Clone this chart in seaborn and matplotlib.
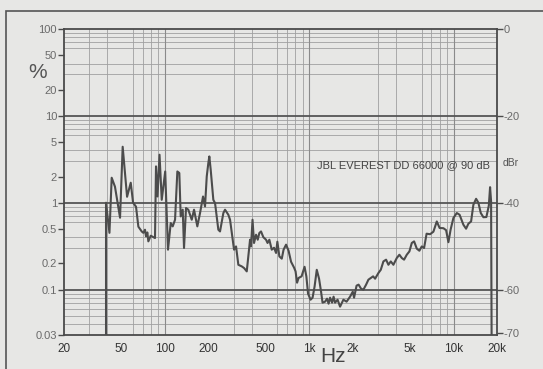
import numpy as np
import pandas as pd
import matplotlib
matplotlib.use("Agg")
import matplotlib.pyplot as plt
import matplotlib.ticker as mticker
from matplotlib.patches import Rectangle
import seaborn as sns

# distortion curve (Hz, %)
freq_hz = [
    39.1, 39.1, 41.3, 42.8, 45.1, 48.9, 51.0, 54.7, 58.0, 60.2,
    63.1, 65.5, 69.1, 70.9, 72.8, 74.0, 75.6, 76.8, 79.8, 85.4,
    86.8, 88.9, 91.8, 95.1, 100.5, 105.1, 109.8, 113.3, 117.6, 122.0,
    125.9, 128.7, 132.9, 135.7, 140.1, 145.3, 153.5, 159.2, 167.8, 175.2,
    183.8, 189.7, 195.0, 200.0, 203.2, 207.7, 216.6, 222.6, 234.6, 241.0,
    254.2, 261.0, 275.2, 282.8, 301.4, 311.2, 322.8, 340.8, 353.6, 369.2,
    378.8, 389.1, 395.2, 404.8, 414.6, 428.2, 439.8, 451.2, 463.6, 481.0,
    502.2, 514.4, 529.4, 550.0, 570.6, 589.2, 601.6, 621.0, 645.4, 664.2,
    691.2, 719.4, 748.6, 785.2, 804.4, 823.8, 843.8, 885.2, 928.4, 955.4,
    981.6, 1022, 1055, 1089, 1128, 1170, 1208, 1237, 1288, 1329,
    1362, 1395, 1440, 1475, 1510, 1572, 1636, 1725, 1815, 1919,
    2003, 2045, 2128, 2198, 2287, 2373, 2478, 2571, 2684, 2771,
    2861, 3015, 3132, 3266, 3409, 3537, 3673, 3830, 4043, 4214,
    4378, 4542, 4742, 4944, 5137, 5329, 5563, 5798, 6024, 6249,
    6504, 6878, 7251, 7653, 8005, 8507, 8880, 9212, 9538, 9975,
    10530, 11010, 11700, 12210, 12670, 13230, 13720, 14330, 14860, 15440,
    16100, 16880, 17550, 17910, 18200, 18350,
]
thd_pct = [
    0.03, 1.0, 0.45, 1.94, 1.53, 0.672, 4.41, 1.17, 1.70, 1.0,
    0.90, 0.53, 0.467, 0.45, 0.489, 0.41, 0.455, 0.359, 0.417, 0.392,
    2.62, 1.18, 3.57, 1.08, 2.29, 0.288, 0.584, 0.534, 0.637, 2.29,
    2.20, 0.696, 0.831, 0.301, 0.869, 0.831, 0.637, 0.831, 0.534, 0.761,
    1.18, 0.906, 2.01, 2.86, 3.41, 2.40, 1.08, 0.99, 0.489, 0.467,
    0.761, 0.831, 0.727, 0.637, 0.288, 0.314, 0.193, 0.185, 0.177, 0.162,
    0.241, 0.375, 0.314, 0.637, 0.344, 0.428, 0.375, 0.448, 0.467, 0.401,
    0.375, 0.344, 0.375, 0.288, 0.303, 0.264, 0.356, 0.241, 0.227, 0.288,
    0.329, 0.28, 0.209, 0.179, 0.162, 0.120, 0.136, 0.142, 0.183, 0.142,
    0.0897, 0.0765, 0.0807, 0.108, 0.169, 0.1335, 0.0946, 0.0707, 0.0726, 0.0786,
    0.0688, 0.0807, 0.0707, 0.0829, 0.0707, 0.0765, 0.0636, 0.0765, 0.0726, 0.0829,
    0.0946, 0.0807, 0.111, 0.114, 0.1024, 0.0997, 0.114, 0.130, 0.137, 0.142,
    0.1335, 0.155, 0.169, 0.211, 0.221, 0.193, 0.211, 0.193, 0.231, 0.252,
    0.231, 0.221, 0.252, 0.275, 0.344, 0.359, 0.296, 0.280, 0.314, 0.301,
    0.440, 0.434, 0.464, 0.609, 0.512, 0.509, 0.483, 0.351, 0.489, 0.667,
    0.761, 0.727, 0.558, 0.502, 0.573, 0.609, 0.948, 1.11, 1.0, 0.761,
    0.681, 0.684, 0.924, 1.51, 1.04, 0.03,
]

x_ticks = [20, 50, 100, 200, 500, 1000, 2000, 5000, 10000, 20000]
x_labels = ["20", "50", "100", "200", "500", "1k", "2k", "5k", "10k", "20k"]
y_ticks = [100, 50, 20, 10, 5, 2, 1, 0.5, 0.2, 0.1, 0.03]
y_labels = ["100", "50", "20", "10", "5", "2", "1", "0.5", "0.2", "0.1", "0.03"]
dbr_ticks = [0, -20, -40, -60, -70]
title_text = "JBL EVEREST DD 66000 @ 90 dB"

paper = "#e7e7e5"
ink = "#4a4a4a"

sns.set_style("white")
plt.rcParams["font.family"] = ["Liberation Sans", "DejaVu Sans"]

df = pd.DataFrame({"freq": freq_hz, "thd": thd_pct})

fig = plt.figure(figsize=(5.43, 3.69), dpi=100, facecolor=paper)
ax = fig.add_axes([64 / 543, 1 - 335 / 369, 433 / 543, 306 / 369])
ax.set_facecolor(paper)
ax.set_xscale("log")
ax.set_yscale("log")
ax.set_xlim(20, 20000)
ax.set_ylim(0.03, 100)

# grid: thin minor lines, heavier decade lines
ax.xaxis.set_minor_locator(mticker.LogLocator(base=10, subs=np.arange(2, 10)))
ax.yaxis.set_minor_locator(mticker.LogLocator(base=10, subs=np.arange(2, 10)))
ax.grid(which="minor", color="#a0a0a0", linewidth=0.6)
for v in [100, 1000, 10000]:
    ax.axvline(v, color="#8a8a8a", linewidth=0.8, zorder=1)
for v in [10, 1, 0.1]:
    ax.axhline(v, color="#555555", linewidth=1.3, zorder=1)

sns.lineplot(data=df, x="freq", y="thd", ax=ax, sort=False, estimator=None,
             color="#4c4c4c", linewidth=1.5, zorder=3)

ax.set_xticks(x_ticks)
ax.set_xticklabels(x_labels)
ax.set_yticks(y_ticks)
ax.set_yticklabels(y_labels)
ax.tick_params(axis="x", which="major", length=3, width=1, color=ink,
               labelsize=8.5, labelcolor="#333333", pad=3)
ax.tick_params(axis="y", which="major", length=4, width=1, color=ink,
               labelsize=8, labelcolor="#6a6a6a", pad=1)
ax.tick_params(which="minor", length=0)
ax.set_xlabel("")
ax.set_ylabel("")
for s in ax.spines.values():
    s.set_color(ink)
    s.set_linewidth(1.3)

# right-hand dBr scale
ax2 = ax.twinx()
ax2.set_yscale("log")
ax2.set_ylim(ax.get_ylim())
ax2.set_yticks([100 * 10 ** (d / 20) for d in dbr_ticks])
ax2.set_yticklabels([str(d) for d in dbr_ticks])
ax2.yaxis.set_minor_locator(mticker.NullLocator())
ax2.tick_params(axis="y", length=4, width=1, color=ink, labelsize=8,
                labelcolor="#6a6a6a", pad=1)
for s in ax2.spines.values():
    s.set_visible(False)

ax.text(0.984, 0.556, title_text, transform=ax.transAxes, ha="right",
        va="center", fontsize=8, color="#444444")
fig.text(38 / 543, 1 - 73 / 369, "%", ha="center", va="center",
         fontsize=15, color="#555555")
fig.text(333 / 543, 1 - 357 / 369, "Hz", ha="center", va="center",
         fontsize=15, color="#444444")
fig.text(503 / 543, 1 - 163 / 369, "dBr", ha="left", va="center",
         fontsize=7.5, color="#555555")

# outer frame of the magazine box (only top and left edges fall inside the crop)
fig.patches.append(Rectangle((6 / 543, -0.05), 1.1, 1.05 - 11 / 369,
                             transform=fig.transFigure, fill=False,
                             edgecolor="#555555", linewidth=1.2))

fig.savefig("out.png", dpi=100, facecolor=paper)
